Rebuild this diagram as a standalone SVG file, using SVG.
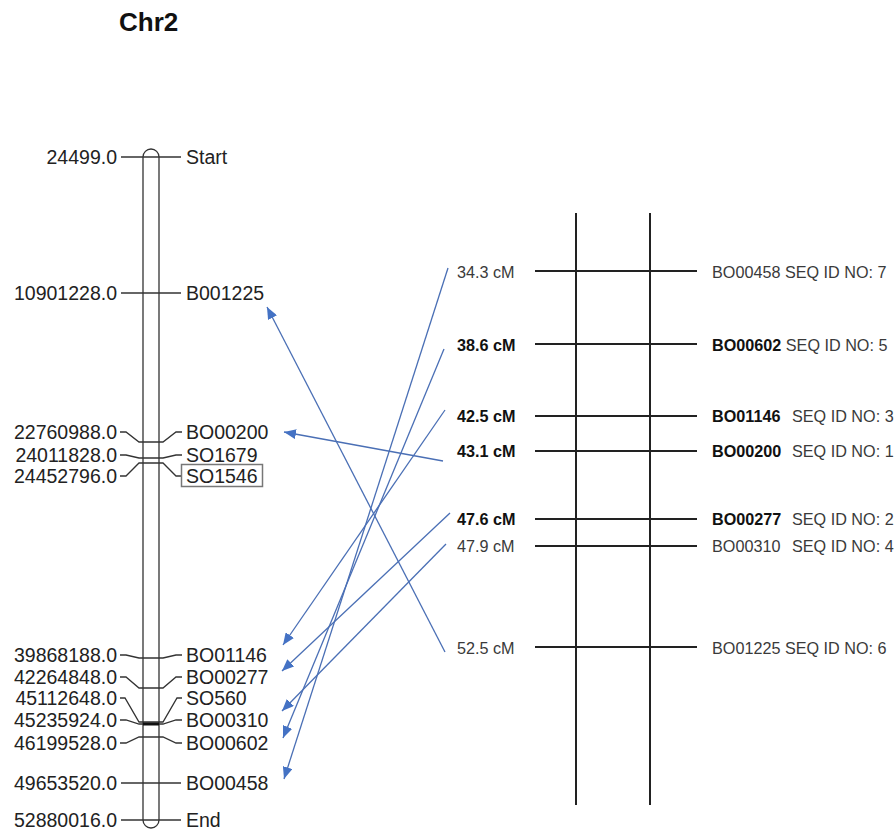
<svg xmlns="http://www.w3.org/2000/svg" width="895" height="833" viewBox="0 0 895 833">
<style>
.t{font-family:"Liberation Sans",Arial,sans-serif;font-size:19.5px;fill:#222}
.l{text-anchor:end}
.c{fill:none;stroke:#333;stroke-width:1.3}
.k{stroke:#333;stroke-width:1.5}
.m{stroke:#222;stroke-width:2}
.r{font-family:"Liberation Sans",Arial,sans-serif;font-size:16.2px;fill:#3a3a3a}
.b{font-weight:bold;fill:#111}
.a{stroke:#4a6fb5;stroke-width:1.3;fill:none;marker-end:url(#ah)}
</style>
<defs>
<marker id="ah" markerUnits="userSpaceOnUse" markerWidth="13" markerHeight="10" refX="12" refY="5" orient="auto">
<path d="M0,0 L12,5 L0,10 z" fill="#4472c4"/>
</marker>
</defs>
<rect width="895" height="833" fill="#fff"/>
<g id="title"><text x="119" y="31" style="font-family:'Liberation Sans',Arial,sans-serif;font-size:26px;font-weight:bold;fill:#111">Chr2</text></g>
<g id="chromosome">
<path class="c" d="M143,820 V157 A8,8 0 0 1 159,157 V820 A8,8 0 0 1 143,820"/>
</g>
<g id="chr-markers">
<g id="m-start"><line class="k" x1="121" y1="157" x2="181" y2="157"/><text class="t l" x="117" y="164">24499.0</text><text class="t" x="186" y="164">Start</text></g>
<g id="m-b001225"><line class="k" x1="121" y1="293" x2="181" y2="293"/><text class="t l" x="117" y="300">10901228.0</text><text class="t" x="186" y="300">B001225</text></g>
<g id="m-bo00200"><polyline class="c" points="120,432 126,432 139,442 163,442 176,432 182,432"/><text class="t l" x="117" y="439">22760988.0</text><text class="t" x="186" y="439">BO00200</text></g>
<g id="m-so1679"><polyline class="c" points="120,455 126,455 139,458 163,458 176,455 182,455"/><text class="t l" x="117" y="462">24011828.0</text><text class="t" x="186" y="462">SO1679</text></g>
<g id="m-so1546"><polyline class="c" points="120,476 126,476 139,463 163,463 176,476 182,476"/><text class="t l" x="117" y="483">24452796.0</text><rect x="181.5" y="464.5" width="81" height="22" fill="none" stroke="#777" stroke-width="1.5"/><text class="t" x="186" y="483">SO1546</text></g>
<g id="m-bo01146"><polyline class="c" points="120,655 126,655 139,658 163,658 176,655 182,655"/><text class="t l" x="117" y="662">39868188.0</text><text class="t" x="186" y="662">BO01146</text></g>
<g id="m-bo00277"><polyline class="c" points="120,677 126,677 139,688 163,688 176,677 182,677"/><text class="t l" x="117" y="684">42264848.0</text><text class="t" x="186" y="684">BO00277</text></g>
<g id="m-so560"><polyline class="c" points="120,698 125,698 139,722 163,722 177,698 182,698"/><text class="t l" x="117" y="705">45112648.0</text><text class="t" x="186" y="705">SO560</text></g>
<g id="m-bo00310"><polyline class="c" points="120,720 126,720 139,724 163,724 176,720 182,720"/><line x1="143" y1="724" x2="159" y2="724" stroke="#111" stroke-width="3"/><text class="t l" x="117" y="727">45235924.0</text><text class="t" x="186" y="727">BO00310</text></g>
<g id="m-bo00602"><polyline class="c" points="120,743 126,743 139,737 163,737 176,743 182,743"/><text class="t l" x="117" y="750">46199528.0</text><text class="t" x="186" y="750">BO00602</text></g>
<g id="m-bo00458"><line class="k" x1="121" y1="783" x2="181" y2="783"/><text class="t l" x="117" y="790">49653520.0</text><text class="t" x="186" y="790">BO00458</text></g>
<g id="m-end"><line class="k" x1="121" y1="820" x2="181" y2="820"/><text class="t l" x="117" y="827">52880016.0</text><text class="t" x="186" y="827">End</text></g>
</g>
<g id="genetic-map">
<line class="m" x1="576" y1="213" x2="576" y2="805"/>
<line class="m" x1="650" y1="213" x2="650" y2="805"/>
<g id="g-343"><line class="m" x1="535" y1="271" x2="697" y2="271"/><text class="r" x="457" y="278">34.3 cM</text><text class="r" x="712" y="278">BO00458 SEQ ID NO: 7</text></g>
<g id="g-386"><line class="m" x1="535" y1="344" x2="697" y2="344"/><text class="r b" x="457" y="351">38.6 cM</text><text class="r" x="712" y="351"><tspan class="b">BO00602</tspan> SEQ ID NO: 5</text></g>
<g id="g-425"><line class="m" x1="535" y1="416" x2="697" y2="416"/><text class="r b" x="457" y="422">42.5 cM</text><text class="r" x="712" y="422"><tspan class="b">BO01146</tspan><tspan x="792">SEQ ID NO: 3</tspan></text></g>
<g id="g-431"><line class="m" x1="535" y1="451" x2="697" y2="451"/><text class="r b" x="457" y="457">43.1 cM</text><text class="r" x="712" y="457"><tspan class="b">BO00200</tspan><tspan x="792">SEQ ID NO: 1</tspan></text></g>
<g id="g-476"><line class="m" x1="535" y1="519" x2="697" y2="519"/><text class="r b" x="457" y="525">47.6 cM</text><text class="r" x="712" y="525"><tspan class="b">BO00277</tspan><tspan x="792">SEQ ID NO: 2</tspan></text></g>
<g id="g-479"><line class="m" x1="535" y1="546" x2="697" y2="546"/><text class="r" x="457" y="552">47.9 cM</text><text class="r" x="712" y="552">BO00310<tspan x="792">SEQ ID NO: 4</tspan></text></g>
<g id="g-525"><line class="m" x1="535" y1="647" x2="697" y2="647"/><text class="r" x="457" y="654">52.5 cM</text><text class="r" x="712" y="654">BO01225 SEQ ID NO: 6</text></g>
</g>
<g id="connectors">
<line class="a" x1="448" y1="268" x2="284" y2="779"/>
<line class="a" x1="444" y1="349" x2="283" y2="738"/>
<line class="a" x1="445" y1="410" x2="283" y2="645"/>
<line class="a" x1="443" y1="461" x2="284" y2="432"/>
<line class="a" x1="450" y1="513" x2="282" y2="671"/>
<line class="a" x1="446" y1="544" x2="282" y2="711"/>
<line class="a" x1="445" y1="652" x2="267" y2="307"/>
</g>
</svg>
